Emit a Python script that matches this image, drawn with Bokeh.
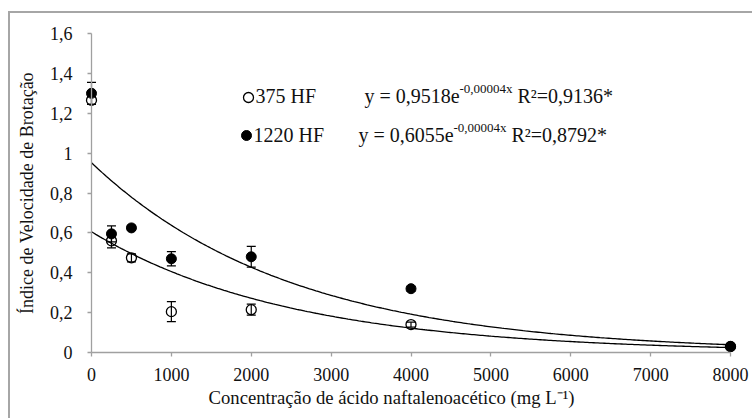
import numpy as np
from bokeh.plotting import figure
from bokeh.models import Range1d, FixedTicker, ColumnDataSource, Whisker, TeeHead, Title
from bokeh.core.properties import value
from bokeh.embed import file_html
from bokeh.resources import INLINE

# ---------------- data ----------------
conc = [0, 250, 500, 1000, 2000, 4000, 8000]
hf375 = [1.265, 0.56, 0.475, 0.205, 0.215, 0.14, 0.03]
hf375_err = [0.02, 0.035, 0.02, 0.05, 0.028, 0.012, 0.005]
hf1220 = [1.30, 0.595, 0.625, 0.47, 0.48, 0.32, 0.03]
hf1220_err = [0.055, 0.04, 0.012, 0.036, 0.052, 0.012, 0.005]

trend_a = [0.9518, 0.6055]
trend_b = -0.0004
series_names = ["375 HF", "1220 HF"]
eq_main = ["y = 0,9518e", "y = 0,6055e"]
eq_exp = ["-0,00004x", "-0,00004x"]
eq_r2 = ["R²=0,9136*", "R²=0,8792*"]

x_ticks = [0, 1000, 2000, 3000, 4000, 5000, 6000, 7000, 8000]
y_ticks = [0, 0.2, 0.4, 0.6, 0.8, 1.0, 1.2, 1.4, 1.6]
y_tick_labels = ["0", "0,2", "0,4", "0,6", "0,8", "1", "1,2", "1,4", "1,6"]
x_title = "Concentração de ácido naftalenoacético (mg L⁻¹)"
y_title = "Índice de Velocidade de Brotação"

FONT = "Liberation Serif"
TXT = "#111111"

# ---------------- geometry helpers (page px -> data) ----------------
X0_PX, X_SCALE = 91.0, 639.0 / 8000.0
Y0_PX, Y_SCALE = 352.0, 319.0 / 1.6


def X(px):
    return (px - X0_PX) / X_SCALE


def Y(py):
    return (Y0_PX - py) / Y_SCALE


CONTENT_LEFT, CONTENT_TOP = 10, 13
FRAME_LEFT, FRAME_RIGHT, FRAME_TOP, FRAME_BOTTOM = 12, 754, 15, 383
W, H = 754 - CONTENT_LEFT, 420 - CONTENT_TOP

p = figure(
    width=W, height=H,
    x_range=Range1d(X(FRAME_LEFT), X(FRAME_RIGHT)),
    y_range=Range1d(Y(FRAME_BOTTOM), Y(FRAME_TOP)),
    output_backend="svg", toolbar_location=None,
    min_border_left=FRAME_LEFT - CONTENT_LEFT,
    min_border_right=754 - FRAME_RIGHT,
    min_border_top=FRAME_TOP - CONTENT_TOP,
    min_border_bottom=420 - FRAME_BOTTOM,
)
p.styles = {
    "margin-left": "8px", "margin-top": "11px",
    "border-left": "2px solid #a6a6a6", "border-top": "2px solid #a6a6a6",
}
p.background_fill_color = "white"
p.border_fill_color = "white"
p.outline_line_color = None
p.xgrid.grid_line_color = None
p.ygrid.grid_line_color = None

for ax in (p.xaxis[0], p.yaxis[0]):
    ax.axis_line_color = "#a0a0a0"
    ax.axis_line_width = 1.3
    ax.major_tick_line_color = "#a0a0a0"
    ax.major_tick_line_width = 1.3
    ax.major_tick_in = 0
    ax.major_tick_out = 4
    ax.minor_tick_line_color = None
    ax.major_label_text_font = FONT
    ax.major_label_text_font_size = "18px"
    ax.major_label_text_color = TXT
    ax.axis_label_text_font = FONT
    ax.axis_label_text_font_size = "18px"
    ax.axis_label_text_font_style = "normal"
    ax.axis_label_text_color = TXT

p.xaxis.ticker = FixedTicker(ticks=x_ticks)
p.xaxis.bounds = (0, 8000)
p.xaxis.fixed_location = 0
p.xaxis.major_label_standoff = 11

p.yaxis.ticker = FixedTicker(ticks=y_ticks)
p.yaxis.bounds = (0, 1.6)
p.yaxis.major_label_overrides = {t: l for t, l in zip(y_ticks, y_tick_labels)}
p.yaxis.fixed_location = 0
p.yaxis.major_label_standoff = 15
p.yaxis.axis_label = y_title
p.yaxis.axis_label_standoff = 10

p.add_layout(Title(text=x_title, align="left", offset=208 - FRAME_LEFT, standoff=2,
                   text_font=FONT, text_font_size="18.7px", text_font_style="normal",
                   text_color=TXT), "below")

# ---------------- trend lines ----------------
xf = np.linspace(0, 8000, 300)
for a in trend_a:
    p.line(xf, a * np.exp(trend_b * xf), line_color="black", line_width=1.3)

# ---------------- error bars ----------------
for vals, errs in ((hf375, hf375_err), (hf1220, hf1220_err)):
    src = ColumnDataSource(dict(
        x=conc,
        upper=[v + e for v, e in zip(vals, errs)],
        lower=[v - e for v, e in zip(vals, errs)],
    ))
    w = Whisker(base="x", upper="upper", lower="lower", source=src,
                line_color="black", line_width=1.2,
                upper_head=TeeHead(size=9, line_color="black", line_width=1.2),
                lower_head=TeeHead(size=9, line_color="black", line_width=1.2))
    p.add_layout(w)

# ---------------- markers ----------------
p.scatter(conc, hf375, size=10, marker="circle", fill_alpha=0,
          line_color="black", line_width=1.3)
p.scatter(conc, hf1220, size=10, marker="circle", fill_color="black",
          line_color="black", line_width=1)

# ---------------- legend / equations ----------------
row_y = [97, 135]
row_base = [95.5, 134.5]
mk_x = [248, 246]
name_x = [255, 253]
eq_x = [364, 358]

p.scatter([X(mk_x[0])], [Y(row_y[0])], size=10, marker="circle", fill_alpha=0,
          line_color="black", line_width=1.3)
p.scatter([X(mk_x[1])], [Y(row_y[1])], size=10, marker="circle", fill_color="black",
          line_color="black")

for i in range(2):
    p.text(x=[X(name_x[i])], y=[Y(row_base[i])], text=[series_names[i]],
           text_font=value(FONT), text_font_size="20px", text_color=TXT,
           text_baseline="alphabetic", text_align="left")
    p.text(x=[X(eq_x[i])], y=[Y(row_base[i])], text=[eq_main[i]],
           text_font=value(FONT), text_font_size="20px", text_color=TXT,
           text_baseline="alphabetic", text_align="left")
    p.text(x=[X(eq_x[i] + 95)], y=[Y(row_base[i] - 7.5)], text=[eq_exp[i]],
           text_font=value(FONT), text_font_size="13px", text_color=TXT,
           text_baseline="alphabetic", text_align="left")
    p.text(x=[X(eq_x[i] + 153)], y=[Y(row_base[i])], text=[eq_r2[i]],
           text_font=value(FONT), text_font_size="20px", text_color=TXT,
           text_baseline="alphabetic", text_align="left")

open("out.html", "w").write(file_html(p, INLINE))
